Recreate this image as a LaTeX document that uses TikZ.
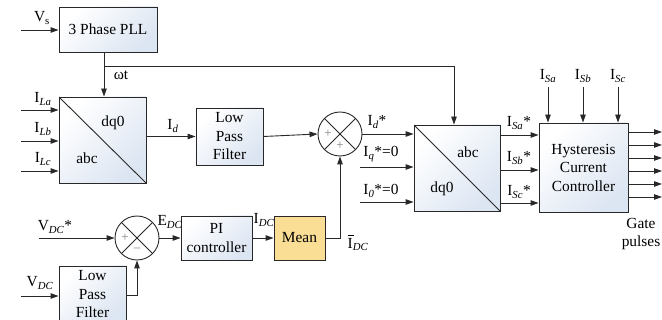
\documentclass[tikz,border=0pt]{standalone}
\usepackage{fontspec}
\setmainfont{Liberation Serif}
\usepackage{tikz}
\usetikzlibrary{arrows.meta,positioning,calc}
\definecolor{BlockBlue}{RGB}{220,229,242}
\definecolor{MeanYellow}{RGB}{250,222,150}
\definecolor{LineGray}{RGB}{40,40,40}
\newcommand{\isub}[1]{\textsubscript{\textit{#1}}}

\tikzset{
  block/.style={draw=LineGray,line width=0.9pt,align=center,inner sep=0pt,
    top color=white,bottom color=BlockBlue,shading angle=45},
  transbox/.style={block,minimum width=87pt,minimum height=86pt,
    path picture={\draw[LineGray,line width=0.9pt]
      (path picture bounding box.north west) -- (path picture bounding box.south east);}},
  sumnode/.style={draw=LineGray,line width=0.9pt,circle,minimum size=44pt,inner sep=0pt,
    path picture={\draw[LineGray,line width=0.9pt]
      (path picture bounding box.north west) -- (path picture bounding box.south east)
      (path picture bounding box.south west) -- (path picture bounding box.north east);}},
  sign/.style={gray,inner sep=0pt,font=\fontsize{13}{13}\selectfont},
  lbl/.style={inner sep=0pt},
  sig/.style={draw=LineGray,line width=0.9pt,-{Triangle[length=8pt,width=5.5pt]}},
  wire/.style={draw=LineGray,line width=0.9pt}
}

\begin{document}
\begin{tikzpicture}[x=1pt,y=-1pt,font=\fontsize{15.4}{18.5}\selectfont]
  \useasboundingbox (0,0) rectangle (662,320);

  % top row
  \node[block,minimum width=98pt,minimum height=45pt] (pll) at (108,29.5) {3 Phase PLL};
  \node[transbox] (abcdq) at (102.5,140) {};
  \node[lbl] (abcdqT) at (113,123) {dq0};
  \node[lbl] (abcdqB) at (87,158) {abc};
  \node[block,minimum width=67pt,minimum height=57pt] (lpfa) at (229.5,136.5) {Low\\Pass\\Filter};
  \node[sumnode] (suma) at (340,134) {};
  \node[sign] (sumaL) at ([xshift=-12pt]suma.center) {+};
  \node[sign] (sumaB) at ([yshift=-12pt]suma.center) {+};
  \node[transbox,minimum width=86pt] (dqabc) at (457,168) {};
  \node[lbl] (dqabcT) at (468,152) {abc};
  \node[lbl] (dqabcB) at (442,189) {dq0};
  \node[block,minimum width=89pt,minimum height=89pt] (hcc) at (583.5,167.5) {Hysteresis\\Current\\Controller};

  % bottom row
  \node[sumnode] (sumb) at (137,238) {};
  \node[sign] (sumbL) at ([xshift=-12pt]sumb.center) {+};
  \node[sign] (sumbB) at ([yshift=-12pt]sumb.center) {--};
  \node[block,minimum width=71pt,minimum height=44pt] (pi) at (216.5,238) {PI\\controller};
  \node[draw=LineGray,line width=0.9pt,fill=MeanYellow,minimum width=51pt,minimum height=44pt] (mean) at (299.5,238) {Mean};
  \node[block,minimum width=67pt,minimum height=57pt] (lpfb) at (92.5,294.5) {Low\\Pass\\Filter};

  % free ends
  \coordinate (vsIn) at (21,30);
  \coordinate (ilaIn) at (21,110);
  \coordinate (ilbIn) at (21,141);
  \coordinate (ilcIn) at (21,171);
  \coordinate (wtJoin) at (104,66);
  \coordinate (iqIn) at (360,167);
  \coordinate (izIn) at (360,202);
  \coordinate (vdcrefIn) at (39,238);
  \coordinate (vdcIn) at (21,296);

  % connectors
  \path[sig] (vsIn) -- (pll.west |- vsIn);
  \path[sig] (pll.south -| wtJoin) -- (abcdq.north -| wtJoin);
  \path[sig] (wtJoin) -| (dqabc.north -| 454,0);
  \foreach \src in {ilaIn,ilbIn,ilcIn}
    \path[sig] (\src) -- (abcdq.west |- \src);
  \path[sig] (abcdq.east |- lpfa) -- (lpfa.west);
  \path[sig] (lpfa.east) -- (suma.west);
  \path[sig] (suma.east) -- (suma.east -| dqabc.west);
  \path[sig] (iqIn) -- (dqabc.west |- iqIn);
  \path[sig] (izIn) -- (dqabc.west |- izIn);
  \foreach \yy in {135,170,203}
    \path[sig] (dqabc.east |- 0,\yy) -- (hcc.west |- 0,\yy);
  \foreach \xx in {548,583,618}
    \path[sig] (\xx,87) -- (hcc.north -| \xx,0);
  \foreach \yy in {132,145,158,171,184,197}
    \path[sig] (hcc.east |- 0,\yy) -- (662,\yy);
  \path[sig] (vdcrefIn) -- (sumb.west);
  \path[sig] (sumb.east) -- (pi.west);
  \path[sig] (pi.east) -- (mean.west);
  \path[sig] (mean.east) -| (suma.south);
  \path[sig] (vdcIn) -- (lpfb.west |- vdcIn);
  \path[sig] (lpfb.east |- 0,295) -| (sumb.south);

  % labels
  \node[lbl] (vsL) at (42,18) {V\textsubscript{s}};
  \node[lbl] (wtL) at (121,75) {ωt};
  \node[lbl] (ilaL) at (43,99) {I\isub{La}};
  \node[lbl] (ilbL) at (43,129) {I\isub{Lb}};
  \node[lbl] (ilcL) at (43,159) {I\isub{Lc}};
  \node[lbl] (idL) at (173,126) {I\isub{d}};
  \node[lbl] (idrefL) at (377,122) {I\isub{d}*};
  \node[lbl] (iqL) at (381,154) {I\isub{q}*=0};
  \node[lbl] (izL) at (381,191) {I\isub{0}*=0};
  \node[lbl] (isarefL) at (519,123) {I\isub{Sa}*};
  \node[lbl] (isbrefL) at (519,158) {I\isub{Sb}*};
  \node[lbl] (iscrefL) at (519,192) {I\isub{Sc}*};
  \node[lbl] (isaL) at (548,76) {I\isub{Sa}};
  \node[lbl] (isbL) at (583,76) {I\isub{Sb}};
  \node[lbl] (iscL) at (618,76) {I\isub{Sc}};
  \node[lbl,align=center] (gateL) at (641,234) {Gate\\pulses};
  \node[lbl] (vdcrefL) at (55,227) {V\isub{DC}*};
  \node[lbl] (vdcL) at (40,283) {V\isub{DC}};
  \node[lbl] (edcL) at (170,222) {E\isub{DC}};
  \node[lbl] (idcL) at (264,220) {I\isub{DC}};
  \node[lbl] (idcmL) at (358,243) {\rlap{\rule[12pt]{6pt}{0.9pt}}I\isub{DC}};
\end{tikzpicture}
\end{document}
